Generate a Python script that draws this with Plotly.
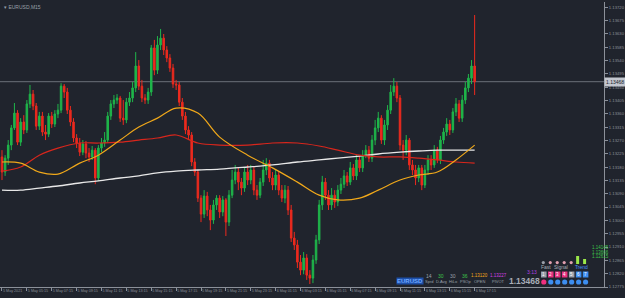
import plotly.graph_objects as go

symbol = "EURUSD,M15"
current_price = 1.13468

x_tick_idx = [0, 8, 16, 24, 32, 40, 48, 56, 64, 72, 80, 88, 96, 104, 112, 120, 128, 136, 144, 152]
x_tick_text = ["5 May 2021", "5 May 05:15", "5 May 07:15", "5 May 09:15", "5 May 11:15",
               "5 May 13:15", "5 May 15:15", "5 May 17:15", "5 May 19:15", "5 May 21:15",
               "5 May 23:15", "6 May 01:15", "6 May 03:15", "6 May 05:15", "6 May 07:15",
               "6 May 09:15", "6 May 11:15", "6 May 13:15", "6 May 15:15", "6 May 17:15"]
y_ticks = [1.13720, 1.13675, 1.13630, 1.13585, 1.13540, 1.13495, 1.13450, 1.13405, 1.13360,
           1.13315, 1.13270, 1.13225, 1.13180, 1.13135, 1.13090, 1.13045, 1.13000, 1.12955,
           1.12910, 1.12865, 1.12820, 1.12775]

opens = [1.13214, 1.13163, 1.13210, 1.13254, 1.13312, 1.13362, 1.13264, 1.13332, 1.13305, 1.13393,
         1.13426, 1.13386, 1.13318, 1.13352, 1.13298, 1.13291, 1.13352, 1.13325, 1.13359, 1.13372,
         1.13453, 1.13433, 1.13372, 1.13332, 1.13278, 1.13261, 1.13230, 1.13258, 1.13227, 1.13214,
         1.13237, 1.13143, 1.13244, 1.13261, 1.13271, 1.13352, 1.13393, 1.13406, 1.13413, 1.13345,
         1.13339, 1.13399, 1.13413, 1.13447, 1.13521, 1.13453, 1.13413, 1.13406, 1.13433, 1.13582,
         1.13507, 1.13592, 1.13615, 1.13575, 1.13548, 1.13514, 1.13460, 1.13457, 1.13399, 1.13352,
         1.13305, 1.13288, 1.13197, 1.13163, 1.13075, 1.13021, 1.13082, 1.13035, 1.13001, 1.13052,
         1.13075, 1.13028, 1.13069, 1.12994, 1.13085, 1.13136, 1.13163, 1.13129, 1.13109, 1.13163,
         1.13136, 1.13170, 1.13102, 1.13085, 1.13129, 1.13170, 1.13193, 1.13143, 1.13119, 1.13153,
         1.13102, 1.13075, 1.13102, 1.13035, 1.12940, 1.12917, 1.12859, 1.12832, 1.12873, 1.12815,
         1.12805, 1.12866, 1.12934, 1.13052, 1.13129, 1.13085, 1.13052, 1.13085, 1.13062, 1.13102,
         1.13122, 1.13150, 1.13129, 1.13177, 1.13150, 1.13204, 1.13177, 1.13220, 1.13237, 1.13210,
         1.13271, 1.13312, 1.13345, 1.13271, 1.13322, 1.13372, 1.13433, 1.13453, 1.13413, 1.13254,
         1.13237, 1.13271, 1.13187, 1.13170, 1.13143, 1.13177, 1.13119, 1.13170, 1.13204, 1.13187,
         1.13237, 1.13204, 1.13271, 1.13298, 1.13325, 1.13305, 1.13366, 1.13393, 1.13345, 1.13406,
         1.13447, 1.13480, 1.13521]
highs = [1.13237, 1.13220, 1.13271, 1.13322, 1.13396, 1.13372, 1.13345, 1.13355, 1.13406, 1.13457,
         1.13440, 1.13396, 1.13366, 1.13366, 1.13322, 1.13362, 1.13366, 1.13372, 1.13393, 1.13463,
         1.13460, 1.13447, 1.13386, 1.13345, 1.13291, 1.13278, 1.13271, 1.13268, 1.13244, 1.13251,
         1.13244, 1.13254, 1.13278, 1.13298, 1.13366, 1.13406, 1.13423, 1.13426, 1.13420, 1.13406,
         1.13413, 1.13433, 1.13467, 1.13568, 1.13541, 1.13474, 1.13426, 1.13447, 1.13592, 1.13609,
         1.13622, 1.13646, 1.13629, 1.13588, 1.13561, 1.13528, 1.13474, 1.13467, 1.13413, 1.13366,
         1.13318, 1.13298, 1.13210, 1.13170, 1.13085, 1.13102, 1.13096, 1.13052, 1.13069, 1.13085,
         1.13085, 1.13082, 1.13075, 1.13102, 1.13170, 1.13187, 1.13177, 1.13143, 1.13177, 1.13187,
         1.13187, 1.13183, 1.13119, 1.13143, 1.13204, 1.13210, 1.13204, 1.13163, 1.13170, 1.13163,
         1.13119, 1.13119, 1.13116, 1.13052, 1.12961, 1.12934, 1.12883, 1.12893, 1.12886, 1.12832,
         1.12883, 1.12951, 1.13069, 1.13150, 1.13143, 1.13102, 1.13109, 1.13102, 1.13119, 1.13143,
         1.13170, 1.13163, 1.13197, 1.13190, 1.13220, 1.13217, 1.13237, 1.13254, 1.13251, 1.13288,
         1.13339, 1.13366, 1.13355, 1.13339, 1.13389, 1.13457, 1.13480, 1.13467, 1.13423, 1.13271,
         1.13288, 1.13278, 1.13204, 1.13187, 1.13187, 1.13187, 1.13187, 1.13220, 1.13220, 1.13254,
         1.13248, 1.13285, 1.13312, 1.13345, 1.13339, 1.13379, 1.13413, 1.13406, 1.13423, 1.13467,
         1.13494, 1.13541, 1.13693]
lows = [1.13136, 1.13150, 1.13187, 1.13237, 1.13305, 1.13254, 1.13251, 1.13291, 1.13295, 1.13379,
        1.13372, 1.13305, 1.13305, 1.13285, 1.13271, 1.13281, 1.13312, 1.13315, 1.13345, 1.13362,
        1.13413, 1.13359, 1.13318, 1.13264, 1.13244, 1.13217, 1.13220, 1.13210, 1.13197, 1.13204,
        1.13122, 1.13133, 1.13230, 1.13248, 1.13261, 1.13339, 1.13379, 1.13393, 1.13332, 1.13322,
        1.13328, 1.13386, 1.13399, 1.13433, 1.13440, 1.13399, 1.13393, 1.13393, 1.13420, 1.13490,
        1.13494, 1.13575, 1.13558, 1.13534, 1.13501, 1.13447, 1.13440, 1.13386, 1.13339, 1.13291,
        1.13271, 1.13183, 1.13150, 1.13062, 1.12994, 1.13008, 1.13014, 1.12967, 1.12988, 1.13035,
        1.13008, 1.13014, 1.12947, 1.12981, 1.13075, 1.13122, 1.13102, 1.13085, 1.13096, 1.13119,
        1.13122, 1.13085, 1.13069, 1.13075, 1.13116, 1.13153, 1.13129, 1.13102, 1.13102, 1.13085,
        1.13062, 1.13058, 1.13018, 1.12927, 1.12900, 1.12839, 1.12815, 1.12818, 1.12799, 1.12785,
        1.12788, 1.12853, 1.12920, 1.13035, 1.13069, 1.13035, 1.13035, 1.13042, 1.13048, 1.13089,
        1.13109, 1.13116, 1.13119, 1.13136, 1.13136, 1.13163, 1.13163, 1.13210, 1.13197, 1.13197,
        1.13254, 1.13298, 1.13258, 1.13254, 1.13305, 1.13359, 1.13420, 1.13399, 1.13237, 1.13204,
        1.13220, 1.13170, 1.13153, 1.13119, 1.13129, 1.13102, 1.13109, 1.13153, 1.13170, 1.13177,
        1.13193, 1.13190, 1.13258, 1.13285, 1.13288, 1.13295, 1.13352, 1.13332, 1.13332, 1.13393,
        1.13433, 1.13460, 1.13423]
closes = [1.13163, 1.13210, 1.13254, 1.13312, 1.13362, 1.13264, 1.13332, 1.13305, 1.13393, 1.13426,
          1.13386, 1.13318, 1.13352, 1.13298, 1.13291, 1.13352, 1.13325, 1.13359, 1.13372, 1.13453,
          1.13433, 1.13372, 1.13332, 1.13278, 1.13261, 1.13230, 1.13258, 1.13227, 1.13214, 1.13237,
          1.13143, 1.13244, 1.13261, 1.13271, 1.13352, 1.13393, 1.13406, 1.13413, 1.13345, 1.13339,
          1.13399, 1.13413, 1.13447, 1.13521, 1.13453, 1.13413, 1.13406, 1.13433, 1.13582, 1.13507,
          1.13592, 1.13615, 1.13575, 1.13548, 1.13514, 1.13460, 1.13457, 1.13399, 1.13352, 1.13305,
          1.13288, 1.13197, 1.13163, 1.13075, 1.13021, 1.13082, 1.13035, 1.13001, 1.13052, 1.13075,
          1.13028, 1.13069, 1.12994, 1.13085, 1.13136, 1.13163, 1.13129, 1.13109, 1.13163, 1.13136,
          1.13170, 1.13102, 1.13085, 1.13129, 1.13170, 1.13193, 1.13143, 1.13119, 1.13153, 1.13102,
          1.13075, 1.13102, 1.13035, 1.12940, 1.12917, 1.12859, 1.12832, 1.12873, 1.12815, 1.12805,
          1.12866, 1.12934, 1.13052, 1.13129, 1.13085, 1.13052, 1.13085, 1.13062, 1.13102, 1.13122,
          1.13150, 1.13129, 1.13177, 1.13150, 1.13204, 1.13177, 1.13220, 1.13237, 1.13210, 1.13271,
          1.13312, 1.13345, 1.13271, 1.13322, 1.13372, 1.13433, 1.13453, 1.13413, 1.13254, 1.13237,
          1.13271, 1.13187, 1.13170, 1.13143, 1.13177, 1.13119, 1.13170, 1.13204, 1.13187, 1.13237,
          1.13204, 1.13271, 1.13298, 1.13325, 1.13305, 1.13366, 1.13393, 1.13345, 1.13406, 1.13447,
          1.13480, 1.13521, 1.13468]

ma_idx = [0, 6, 12, 18, 25, 31, 38, 44, 50, 56, 63, 70, 79, 87, 95, 102, 108, 115, 121, 128, 134, 140, 146, 152]
ma_orange = [1.13197, 1.13193, 1.13163, 1.13156, 1.13193, 1.13220, 1.13271, 1.13315, 1.13345, 1.13379,
             1.13362, 1.13281, 1.13220, 1.13177, 1.13129, 1.13085, 1.13069, 1.13075, 1.13102, 1.13136,
             1.13153, 1.13163, 1.13204, 1.13254]
ma_red = [1.13166, 1.13180, 1.13220, 1.13244, 1.13261, 1.13261, 1.13264, 1.13271, 1.13278, 1.13288,
          1.13261, 1.13254, 1.13254, 1.13261, 1.13261, 1.13251, 1.13237, 1.13220, 1.13214, 1.13214,
          1.13210, 1.13204, 1.13197, 1.13193]
ma_white = [1.13102, 1.13102, 1.13109, 1.13116, 1.13126, 1.13133, 1.13143, 1.13150, 1.13160, 1.13166,
            1.13170, 1.13173, 1.13180, 1.13187, 1.13197, 1.13204, 1.13210, 1.13217, 1.13224, 1.13230,
            1.13234, 1.13237, 1.13237, 1.13237]

panel_symbol = "EURUSD"
panel_vals = ["14", "30", "30", "36"]
panel_val_labels = ["Sprd", "D.Avg", "HiLo", "PSOp"]
day_open = "1.13120"
pivot = "1.13227"
bid_text = "1.13468"
bar_timer = "3:13"
level_vals = ["1.14145", "1.13666", "1.12615"]

BG = "#20242d"
GREEN = "#1fb54a"
RED = "#ec2a1e"
AXC = "#8b9099"
FONT = "Liberation Sans"

W, H = 625, 298
ML, MR, MT, MB = 0, 18, 2, 11
PW, PH = W - ML - MR, H - MT - MB
idx = list(range(len(closes)))

fig = go.Figure()
fig.add_trace(go.Candlestick(
    x=idx, open=opens, high=highs, low=lows, close=closes,
    increasing=dict(line=dict(color=GREEN, width=1), fillcolor=GREEN),
    decreasing=dict(line=dict(color=RED, width=1), fillcolor=RED),
    whiskerwidth=0, hoverinfo="skip", showlegend=False))
fig.add_trace(go.Scatter(x=ma_idx, y=ma_white, mode="lines", line=dict(color="#e8e8e8", width=1.3, shape="spline"), showlegend=False))
fig.add_trace(go.Scatter(x=ma_idx, y=ma_red, mode="lines", line=dict(color="#d8261c", width=1.2, shape="spline"), showlegend=False))
fig.add_trace(go.Scatter(x=ma_idx, y=ma_orange, mode="lines", line=dict(color="#f0a81a", width=1.2, shape="spline"), showlegend=False))


def px_x(px):
    return (px - ML) / PW


def px_y(py):
    return (H - MB - py) / PH


anns = []
shapes = []


def ann(px, py, text, color, size, bg=None, xa="center", bold=False):
    anns.append(dict(xref="paper", yref="paper", x=px_x(px), y=px_y(py), text=("<b>%s</b>" % text) if bold else text,
                     showarrow=False, xanchor=xa, yanchor="middle",
                     font=dict(color=color, size=size, family=FONT), bgcolor=bg, borderpad=0))


ann(3, 7, "▾ " + symbol, "#9aa0aa", 5, xa="left")
ann(412, 280.5, panel_symbol, "#6fa8ff", 6, bg="#1d4fa8", bold=True)
cols = ["#9aa0aa", "#3cc24a", "#9aa0aa", "#3cc24a"]
for k, (v, lab) in enumerate(zip(panel_vals, panel_val_labels)):
    ann(431 + k * 12.2, 275.5, v, cols[k], 5)
    ann(431 + k * 12.2, 281.5, lab, "#9aa0aa", 4)
ann(481.5, 275.5, day_open, "#f0a81a", 4.5)
ann(481.5, 281.5, "OPEN", "#9aa0aa", 4)
ann(500.5, 275.5, pivot, "#d040e0", 4.5)
ann(500.5, 281.5, "PIVOT", "#9aa0aa", 4)
ann(527, 280.5, bid_text, "#a7acb5", 8.5, bold=True)
ann(535, 272, bar_timer, "#b040e0", 5)
ann(549, 266.5, "Fast", "#a7acb5", 5)
ann(564, 266.5, "Signal", "#a7acb5", 5)
ann(584, 266.5, "Trend", "#4a90ff", 5)
for k, v in enumerate(level_vals):
    ann(603, 247.5 + k * 4.5, v, "#3cc24a", 4.5)

box_cols = ["#9aa0aa", "#e8307f", "#e8307f", "#e8307f", "#9aa0aa", "#3d8ef0", "#3d8ef0"]
circ_cols = ["#f0307f"] + ["#3d8ef0"] * 6
for k in range(7):
    cx = 546.5 + k * 7
    shapes.append(dict(type="rect", xref="paper", yref="paper", x0=px_x(cx - 2.8), x1=px_x(cx + 2.8),
                       y0=px_y(277.5), y1=px_y(271.5), fillcolor=box_cols[k], line=dict(width=0)))
    ann(cx, 274.5, str(k + 1), "#ffffff", 4.5)
    shapes.append(dict(type="circle", xref="paper", yref="paper", x0=px_x(cx - 2.6), x1=px_x(cx + 2.6),
                       y0=px_y(284.6), y1=px_y(279.4), fillcolor=circ_cols[k], line=dict(width=0)))
dot_cols = ["#9aa0aa", "#e0a0b0", "#e0a0b0", "#e0a0b0", "#e0a0b0"]
for k in range(5):
    cx = 546 + k * 7
    shapes.append(dict(type="circle", xref="paper", yref="paper", x0=px_x(cx - 1.6), x1=px_x(cx + 1.6),
                       y0=px_y(264.2), y1=px_y(261), fillcolor=dot_cols[k], line=dict(width=0)))
shapes.append(dict(type="rect", xref="paper", yref="paper", x0=px_x(579), x1=px_x(582),
                   y0=px_y(264), y1=px_y(256), fillcolor="#9be84a", line=dict(width=0)))
shapes.append(dict(type="rect", xref="paper", yref="paper", x0=px_x(586), x1=px_x(589),
                   y0=px_y(264), y1=px_y(259), fillcolor="#9be84a", line=dict(width=0)))

shapes.append(dict(type="line", xref="paper", yref="y", x0=0, x1=1, y0=current_price, y1=current_price,
                   line=dict(color="#6b7079", width=1), layer="below"))
anns.append(dict(xref="paper", yref="y", x=1, y=current_price, text=bid_text, showarrow=False,
                 xanchor="left", yanchor="middle", bgcolor="#c3c7cf",
                 font=dict(color="#20242d", size=5, family=FONT), borderpad=1))

fig.update_layout(
    width=W, height=H, margin=dict(l=ML, r=MR, t=MT, b=MB),
    paper_bgcolor=BG, plot_bgcolor=BG, showlegend=False,
    annotations=anns, shapes=shapes,
    xaxis=dict(range=[-0.64, 193.6], rangeslider=dict(visible=False), showgrid=False, zeroline=False,
               tickmode="array", tickvals=x_tick_idx, ticktext=x_tick_text, ticks="outside", ticklen=3,
               tickcolor=AXC, showline=True, linecolor=AXC, linewidth=1, tickangle=0,
               ticklabelposition="outside right", tickfont=dict(size=3.7, color=AXC, family=FONT)),
    yaxis=dict(range=[1.12775, 1.13737], side="right", showgrid=False, zeroline=False,
               tickmode="array", tickvals=y_ticks, ticktext=["%.5f" % v for v in y_ticks],
               ticks="outside", ticklen=3, tickcolor=AXC, showline=True, linecolor=AXC, linewidth=1,
               tickfont=dict(size=4.2, color=AXC, family=FONT)),
)
fig.write_html("out.html")
